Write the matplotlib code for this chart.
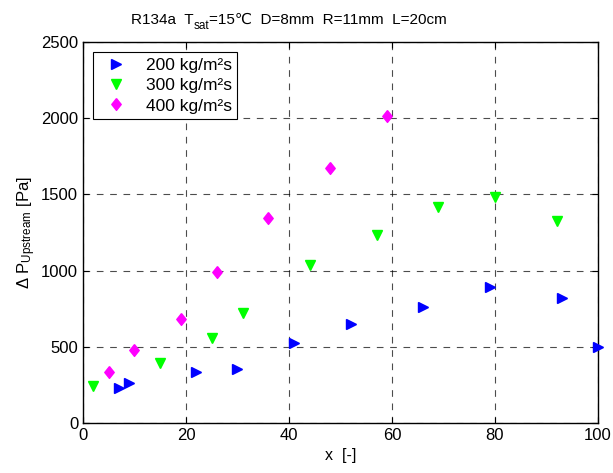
import matplotlib
matplotlib.use("Agg")
import matplotlib.pyplot as plt

plt.rcParams['font.family'] = ['Liberation Sans', 'DejaVu Sans']
plt.rcParams['mathtext.fontset'] = 'custom'
plt.rcParams['mathtext.rm'] = 'Liberation Sans'
plt.rcParams['mathtext.it'] = 'Liberation Sans'
plt.rcParams['font.size'] = 11

# data
x_200 = [7, 9, 22, 30, 41, 52, 66, 79, 93, 100]
dp_200 = [230, 260, 335, 355, 525, 650, 760, 890, 820, 500]

x_300 = [2, 15, 25, 31, 44, 57, 69, 80, 92]
dp_300 = [245, 392, 558, 720, 1037, 1236, 1415, 1484, 1328]

x_400 = [5, 10, 19, 26, 36, 48, 59]
dp_400 = [335, 480, 685, 990, 1347, 1672, 2012]

labels = ['200 kg/m²s', '300 kg/m²s', '400 kg/m²s']
xticks = [0, 20, 40, 60, 80, 100]
yticks = [0, 500, 1000, 1500, 2000, 2500]

diamond = [(0, 1), (0.8, 0), (0, -1), (-0.8, 0), (0, 1)]

fig = plt.figure(figsize=(6.13, 4.73), dpi=100)
ax = fig.add_axes([0.1354, 0.1057, 0.8401, 0.8055])

ax.plot(x_200, dp_200, linestyle='none', marker='>', color='#0000ff', markersize=7.5, label=labels[0], clip_on=False, zorder=3)
ax.plot(x_300, dp_300, linestyle='none', marker='v', color='#00ff00', markersize=7.5, label=labels[1], clip_on=False, zorder=3)
ax.plot(x_400, dp_400, linestyle='none', marker=diamond, color='#ff00ff', markersize=8.5, label=labels[2], clip_on=False, zorder=3)

ax.set_xlim(0, 100)
ax.set_ylim(0, 2500)
ax.set_xticks(xticks)
ax.set_yticks(yticks)
ax.tick_params(direction='in', top=True, right=True, length=4, labelsize=12)
ax.grid(True, color='black', linestyle=(0, (6, 6)), linewidth=0.8, alpha=0.7)
for s in ax.spines.values():
    s.set_linewidth(1.0)

ax.set_xlabel('x  [-]', fontsize=11.5)
ax.set_ylabel(r'$\Delta$ P$_{\rm Upstream}$ [Pa]', fontsize=12, labelpad=2)

# title built from pieces so that the ℃ sign (not in Liberation Sans) falls back
pieces = [('R134a  T', 11, 0), ('sat', 8.5, -5), ('=15℃  D=8mm  R=11mm  L=20cm', 11, 0)]
renderer = fig.canvas.get_renderer()
texts = []
x0 = 0
for s, fs, dy in pieces:
    t = fig.text(0, 0, s, fontsize=fs, ha='left', va='baseline',
                 transform=None)
    w = t.get_window_extent(renderer).width
    texts.append((t, x0, dy))
    x0 += w
total = x0
left = 289 - total / 2
base = 473 - 24
for t, xo, dy in texts:
    t.set_position((left + xo, base + dy))

leg = ax.legend(loc='upper left', fontsize=12.5, fancybox=False, framealpha=1,
                edgecolor='black', borderpad=0.3, handletextpad=0.7,
                labelspacing=0.3, borderaxespad=0.6)
leg.get_frame().set_linewidth(0.8)

fig.savefig('out.png', dpi=100)
